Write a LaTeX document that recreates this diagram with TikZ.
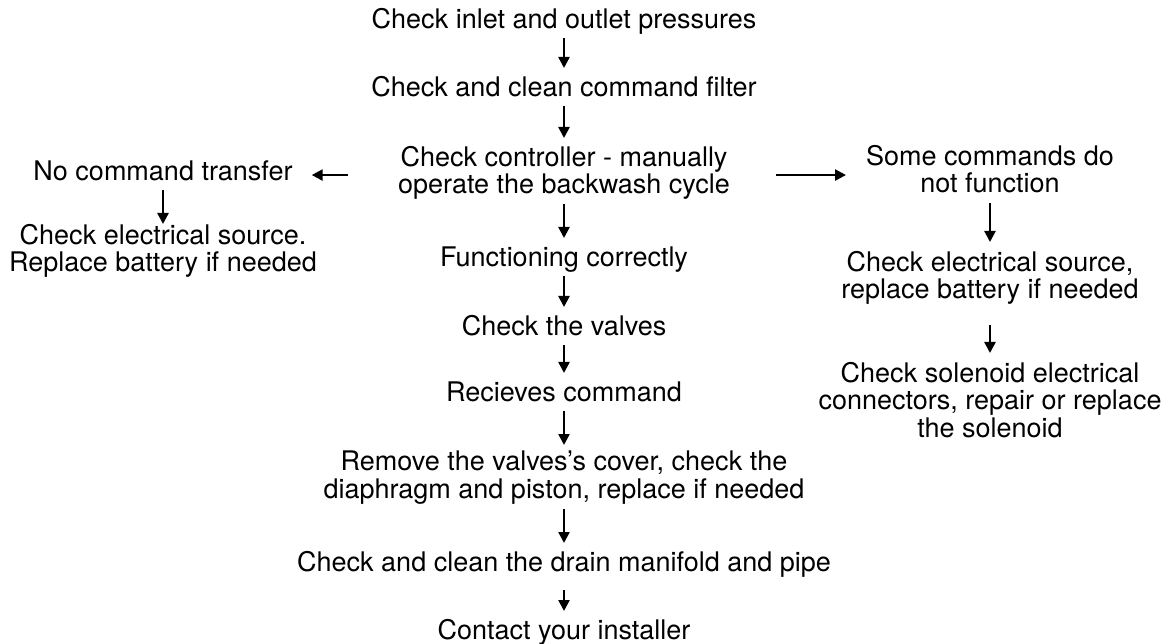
\documentclass[tikz,border=0pt]{standalone}
\usepackage{fontspec}
\setmainfont{TeX Gyre Heros}
\usetikzlibrary{positioning,arrows.meta}

\begin{document}
\begin{tikzpicture}[x=1pt,y=-1pt,
  txt/.style={align=center,inner sep=0pt,anchor=north,
    font=\fontsize{27}{27.5}\selectfont,
    execute at begin node={\rule{0pt}{28pt}},
    execute at end node={\rule[-10pt]{0pt}{10pt}}},
  arr/.style={-{Triangle[length=11pt,width=11pt]},line width=2.4pt}]
\useasboundingbox (0,0) rectangle (1173,644);

% main column
\node[txt] (inlet) at (564,0) {Check inlet and outlet pressures};
\node[txt] (filter) at (564,68) {Check and clean command filter};
\node[txt] (ctrl) at (564,146) {Check controller - manually\\operate the backwash cycle};
\node[txt] (ok) at (564,238) {Functioning correctly};
\node[txt] (valves) at (564,307) {Check the valves};
\node[txt] (recv) at (564,373) {Recieves command};
\node[txt] (cover) at (564,451) {Remove the valves’s cover, check the\\diaphragm and piston, replace if needed};
\node[txt] (drain) at (564,543) {Check and clean the drain manifold and pipe};
\node[txt] (inst) at (564,611) {Contact your installer};

% left branch
\node[txt] (notrans) at (163,152) {No command transfer};
\node[txt] (srcL) at (163,224) {Check electrical source.\\Replace battery if needed};

% right branch
\node[txt] (some) at (990,145) {Some commands do\\not function};
\node[txt] (srcR) at (990,251) {Check electrical source,\\replace battery if needed};
\node[txt] (sol) at (990,362) {Check solenoid electrical\\connectors, repair or replace\\the solenoid};

\draw[arr] (inlet) -- (filter);
\draw[arr,shorten >=8pt] (filter) -- (ctrl);
\draw[arr] (ctrl) -- (ok);
\draw[arr] (ok) -- (valves);
\draw[arr] (valves) -- (recv);
\draw[arr,shorten >=6pt] (recv) -- (cover);
\draw[arr] (cover) -- (drain);
\draw[arr,shorten <=9pt] (drain) -- (inst);

\draw[arr,shorten <=50pt,shorten >=19pt] (ctrl.west) -- (notrans.east |- ctrl.west);
\draw[arr] (notrans) -- (srcL);

\draw[arr,shorten <=46pt,shorten >=20pt] (ctrl.east) -- (some.west |- ctrl.east);
\draw[arr,shorten >=9pt] (some) -- (srcR);
\draw[arr,shorten <=16pt,shorten >=9pt] (srcR) -- (sol);

\end{tikzpicture}
\end{document}
